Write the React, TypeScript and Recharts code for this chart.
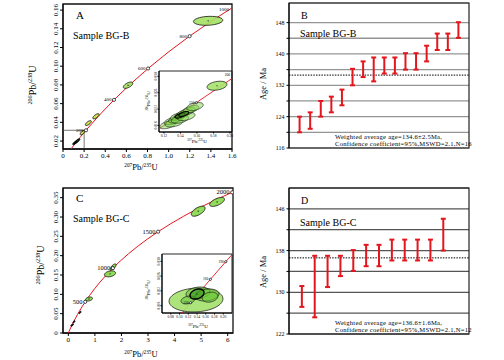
import React from 'react'
import {
  ScatterChart,
  Scatter,
  XAxis,
  YAxis,
  CartesianGrid,
  ReferenceLine,
  ReferenceArea,
  ErrorBar,
} from 'recharts'

const FONT = '"Liberation Serif", "Times New Roman", serif'
const RED = '#e3161d'

// Wetherill concordia, age in Ma -> 207Pb/235U, 206Pb/238U
const concordiaAge = [0, 50, 100, 120, 150, 160, 190, 200, 300, 400, 500, 600, 700, 800, 900, 1000, 1100, 1200, 1300, 1400, 1500, 1600, 1700, 1800, 1900, 2000]
const concordia207 = [0, 0.050475, 0.103498, 0.125449, 0.159197, 0.17067, 0.205774, 0.217708, 0.343738, 0.482813, 0.636293, 0.805665, 0.992523, 1.198625, 1.426405, 1.677433, 1.954515, 2.260302, 2.597739, 2.970093, 3.38099, 3.834413, 4.334764, 4.886899, 5.49618, 6.168531]
const concordia206 = [0, 0.007786, 0.015633, 0.018789, 0.023542, 0.025131, 0.029912, 0.031511, 0.047637, 0.064016, 0.08065, 0.097544, 0.114702, 0.132131, 0.149829, 0.167798, 0.186061, 0.204603, 0.223435, 0.242562, 0.261987, 0.281716, 0.301754, 0.322105, 0.342774, 0.363766]

const markerAgesA = [200, 400, 600, 800]
const markerAgesInsetA = [150]
const markerAgesC = [500, 1000, 1500, 2000]
const markerAgesInsetC = [120, 160, 190]

// error ellipses: [207/235, 206/238, half-width x, half-width y, rho]
const aGreen = [[1.374, 0.1485, 0.139, 0.0048, 0.15], [0.616, 0.0797, 0.045, 0.0034, 0.6]]
const aYellow = [[0.312, 0.0465, 0.03, 0.0027, 0.7], [0.24, 0.0392, 0.028, 0.0026, 0.7], [0.185, 0.029, 0.022, 0.0024, 0.7]]
const aDark = [[0.11, 0.0178, 0.018, 0.0017, 0.7], [0.122, 0.0188, 0.018, 0.0017, 0.7], [0.132, 0.0198, 0.018, 0.0017, 0.7], [0.142, 0.0208, 0.018, 0.0017, 0.7]]

const insetABig = [[0.1843, 0.0277, 0.0121, 0.0011, 0.3]]
const insetACluster = [
  [0.1249, 0.01819, 0.01, 0.001, 0.5],
  [0.1298, 0.01908, 0.0095, 0.0009, 0.5],
  [0.1322, 0.01863, 0.011, 0.001, 0.4],
  [0.1346, 0.01952, 0.009, 0.0009, 0.5],
  [0.137, 0.02019, 0.0095, 0.0009, 0.5],
  [0.1395, 0.01952, 0.0105, 0.001, 0.4],
  [0.1419, 0.02063, 0.009, 0.0009, 0.5],
  [0.1455, 0.02108, 0.0095, 0.0009, 0.5],
  [0.1467, 0.02019, 0.011, 0.001, 0.4],
  [0.1492, 0.02152, 0.009, 0.0009, 0.5],
  [0.1528, 0.02197, 0.0095, 0.0009, 0.5],
  [0.1576, 0.02263, 0.01, 0.001, 0.4],
]
const insetADark = [[0.1395, 0.0204, 0.006, 0.0006, 0.6], [0.144, 0.0208, 0.006, 0.0006, 0.6]]

const cGreen = [[4.89, 0.315, 0.26, 0.013, 0.6], [5.6, 0.339, 0.28, 0.0116, 0.6], [1.57, 0.153, 0.21, 0.0078, 0.3], [1.69, 0.171, 0.11, 0.0078, 0.7], [0.78, 0.088, 0.13, 0.0052, 0.3]]
const cDark = [[0.145, 0.0205, 0.05, 0.003, 0.7], [0.215, 0.029, 0.04, 0.003, 0.7], [0.44, 0.053, 0.04, 0.003, 0.7]]

const insetCBig = [[0.1377, 0.01953, 0.0617, 0.00325, 0.1]]
const insetCMid = [[0.1423, 0.02142, 0.0274, 0.00163, 0.2], [0.1629, 0.02088, 0.0274, 0.00163, 0.2], [0.1194, 0.01953, 0.016, 0.00108, 0.3], [0.1697, 0.0203, 0.018, 0.00136, 0.2]]
const insetCDark = [[0.14, 0.02115, 0.016, 0.00136, 0.3]]

// inset box drawn on panel A
const insetBoxX = [0, 0.2]
const insetBoxY = [0.0115, 0.0315]

// weighted average plots: age ranges (Ma)
const bLow = [120.0, 120.9, 124.0, 125.1, 126.9, 132.0, 134.1, 133.0, 135.0, 135.0, 136.0, 136.0, 138.1, 141.0, 141.0, 144.1]
const bHigh = [124.0, 125.1, 128.0, 129.1, 130.9, 136.2, 138.1, 139.1, 139.1, 139.1, 140.2, 140.2, 142.1, 145.2, 145.2, 148.1]
const bMean = 134.6
const dLow = [127.2, 125.2, 131.0, 133.1, 134.1, 135.0, 135.0, 136.1, 136.1, 136.1, 136.1, 138.0]
const dHigh = [131.2, 137.0, 137.0, 137.0, 138.1, 139.1, 139.1, 140.1, 140.1, 140.1, 140.1, 144.1]
const dMean = 136.6

// ticks
const aXTicks = [0, 0.2, 0.4, 0.6, 0.8, 1.0, 1.2, 1.4, 1.6]
const aYTicks = [0.02, 0.04, 0.06, 0.08, 0.1, 0.12, 0.14, 0.16]
const cXTicks = [0, 1, 2, 3, 4, 5, 6]
const cYTicks = [0, 0.05, 0.1, 0.15, 0.2, 0.25, 0.3, 0.35]
const insetAXTicks = [0.12, 0.14, 0.16, 0.18, 0.2]
const insetAYTicks = [0.018, 0.022, 0.026, 0.03]
const insetCXTicks = [0.08, 0.1, 0.12, 0.14, 0.16, 0.18, 0.2]
const insetCYTicks = [0.018, 0.022, 0.026, 0.03]
const bTicks = [116, 120, 124, 128, 132, 136, 140, 144, 148]
const bLabels = [116, 124, 132, 140, 148]
const dTicks = [122, 126, 130, 134, 138, 142, 146]
const dLabels = [122, 130, 138, 146]

const concordia = concordiaAge.map((age, i) => ({ age, x: concordia207[i], y: concordia206[i] }))
const pickAges = (ages: number[]) => concordia.filter((p) => ages.includes(p.age))
const toEllipses = (rows: number[][]) => rows.map(([x, y, sx, sy, rho]) => ({ x, y, sx, sy, rho }))

const noShape = () => <g />

function ellipseShape(kx: number, ky: number, fill: string, opacity: number, stroke: string, sw: number, dot: boolean) {
  return (p: any) => {
    const { cx, cy, payload } = p
    const c = Math.sqrt(1 - payload.rho * payload.rho)
    let d = ''
    for (let i = 0; i <= 40; i++) {
      const t = (i / 40) * Math.PI * 2
      const px = cx + payload.sx * Math.cos(t) * kx
      const py = cy - payload.sy * (payload.rho * Math.cos(t) + c * Math.sin(t)) * ky
      d += (i ? 'L' : 'M') + px.toFixed(2) + ' ' + py.toFixed(2)
    }
    return (
      <g>
        <path d={d + 'Z'} fill={fill} fillOpacity={opacity} stroke={stroke} strokeWidth={sw} />
        {dot && <circle cx={cx} cy={cy} r={0.6} fill="#000" />}
      </g>
    )
  }
}

function markerShape(r: number, fs: number) {
  return (p: any) => (
    <g>
      <circle cx={p.cx} cy={p.cy} r={r} fill="#fff" stroke="#000" strokeWidth={0.7} />
      <text x={p.cx - r - 1} y={p.cy + fs * 0.3} textAnchor="end" fontSize={fs} fontFamily={FONT} fill="#000">
        {p.payload.age}
      </text>
    </g>
  )
}

const rotYTick = (fs: number, fmt: (v: number) => string) => (p: any) => (
  <text x={p.x} y={p.y} transform={`rotate(-90 ${p.x} ${p.y})`} textAnchor="middle" fontSize={fs} fontFamily={FONT} fill="#000">
    {fmt(p.payload.value)}
  </text>
)

type Group = { rows: number[][]; fill: string; opacity: number; stroke: string; sw: number; dot?: boolean }

function ConcordiaChart(props: any) {
  const { w, h, m, yw, xh, xd, yd, xTicks, yTicks, xFmt, yFmt, fs, ts, markers, mr, mfs, groups, lineW, frameW, children } = props
  const kx = (w - m.left - m.right - yw) / (xd[1] - xd[0])
  const ky = (h - m.top - m.bottom - xh) / (yd[1] - yd[0])
  return (
    <ScatterChart width={w} height={h} margin={m}>
      <XAxis
        type="number"
        dataKey="x"
        domain={xd}
        allowDataOverflow
        ticks={xTicks}
        interval={0}
        tickFormatter={xFmt}
        height={xh}
        tickSize={ts}
        tickMargin={fs * 0.2}
        tick={{ fontSize: fs, fill: '#000', fontFamily: FONT }}
        axisLine={{ stroke: '#000' }}
        tickLine={{ stroke: '#000' }}
      />
      <YAxis
        type="number"
        dataKey="y"
        domain={yd}
        allowDataOverflow
        ticks={yTicks}
        interval={0}
        width={yw}
        tickSize={ts}
        tickMargin={fs * 0.25}
        tick={rotYTick(fs, yFmt)}
        axisLine={{ stroke: '#000' }}
        tickLine={{ stroke: '#000' }}
      />
      <ReferenceArea x1={xd[0]} x2={xd[1]} y1={yd[0]} y2={yd[1]} fill="none" fillOpacity={0} stroke="#111" strokeWidth={frameW} />
      {children}
      <Scatter data={concordia} line={{ stroke: RED, strokeWidth: lineW }} stroke={RED} shape={noShape} isAnimationActive={false} />
      {groups.map((g: Group, i: number) => (
        <Scatter
          key={i}
          data={toEllipses(g.rows)}
          shape={ellipseShape(kx, ky, g.fill, g.opacity, g.stroke, g.sw, g.dot !== false)}
          isAnimationActive={false}
        />
      ))}
      <Scatter data={pickAges(markers)} shape={markerShape(mr, mfs)} isAnimationActive={false} />
    </ScatterChart>
  )
}

function WeightedChart(props: any) {
  const { h, top, bottom, low, high, mean, domain, ticks, labels, n, grid } = props
  const data = low.map((lo: number, i: number) => ({ x: i + 1, y: (lo + high[i]) / 2, err: (high[i] - lo) / 2 }))
  return (
    <ScatterChart width={254} height={h} margin={{ top, right: 35, bottom, left: 0 }}>
      <CartesianGrid vertical={false} stroke={grid} strokeWidth={1.3} />
      <XAxis type="number" dataKey="x" domain={[0, n]} hide />
      <YAxis
        type="number"
        dataKey="y"
        domain={domain}
        allowDataOverflow
        ticks={ticks}
        interval={0}
        width={39}
        tickSize={2.5}
        tickMargin={2}
        tickFormatter={(v: number) => (labels.includes(v) ? String(v) : '')}
        tick={{ fontSize: 6, fill: '#000', fontFamily: FONT }}
        axisLine={{ stroke: '#000' }}
        tickLine={{ stroke: '#000' }}
      />
      <ReferenceArea x1={0} x2={n} y1={domain[0]} y2={domain[1]} fill="none" fillOpacity={0} stroke="#222" strokeWidth={1.2} />
      <ReferenceLine y={mean} stroke="#000" strokeWidth={1} strokeDasharray="1.5 1.2" />
      <Scatter data={data} shape={noShape} isAnimationActive={false}>
        <ErrorBar dataKey="err" direction="y" width={2.5} stroke={RED} strokeWidth={2} isAnimationActive={false} />
      </Scatter>
    </ScatterChart>
  )
}

function IsoTitle({ x, y, size, num, den, rotate }: any) {
  const s = size * 0.62
  const up = size * 0.38
  return (
    <text x={x} y={y} fontSize={size} textAnchor="middle" fontFamily={FONT} fill="#000" transform={rotate ? `rotate(-90 ${x} ${y})` : undefined}>
      <tspan fontSize={s} dy={-up}>{num}</tspan>
      <tspan dy={up}>Pb/</tspan>
      <tspan fontSize={s} dy={-up}>{den}</tspan>
      <tspan dy={up}>U</tspan>
    </text>
  )
}

const fmt1 = (v: number) => (v === 0 ? '0' : v.toFixed(1))
const fmt2 = (v: number) => (v === 0 ? '0' : v.toFixed(2))
const fmt3 = (v: number) => v.toFixed(3)
const fmtInt = (v: number) => String(v)

const pos = (left: number, top: number): React.CSSProperties => ({ position: 'absolute', left, top })

const noteStyle = { fontSize: 6.6, letterSpacing: 0.25 }

export default function App() {
  return (
    <div style={{ position: 'absolute', left: 0, top: 0, width: 504, height: 360, background: '#fff', overflow: 'hidden', fontFamily: FONT }}>
      <div style={pos(0, 0)}>
        <ConcordiaChart
          w={240} h={175} m={{ top: 4, right: 8, bottom: 0, left: 0 }} yw={63} xh={26}
          xd={[0, 1.6]} yd={[0.0115, 0.1665]} xTicks={aXTicks} yTicks={aYTicks} xFmt={fmt1} yFmt={fmt2}
          fs={7} ts={3} markers={markerAgesA} mr={1.6} mfs={5} lineW={1} frameW={1.3}
          groups={[
            { rows: aGreen, fill: '#a3e064', opacity: 0.9, stroke: '#111', sw: 0.8 },
            { rows: aYellow, fill: '#d6e24a', opacity: 0.95, stroke: '#111', sw: 0.9, dot: false },
            { rows: aDark, fill: '#1c2e10', opacity: 1, stroke: '#000', sw: 0.9, dot: false },
          ]}
        >
          <ReferenceLine segment={[{ x: insetBoxX[0], y: insetBoxY[1] }, { x: insetBoxX[1], y: insetBoxY[1] }]} stroke="#777" strokeWidth={1} />
          <ReferenceLine segment={[{ x: insetBoxX[1], y: insetBoxY[0] }, { x: insetBoxX[1], y: insetBoxY[1] }]} stroke="#777" strokeWidth={1} />
        </ConcordiaChart>
      </div>
      <div style={pos(138, 67)}>
        <ConcordiaChart
          w={96} h={78} m={{ top: 4, right: 2, bottom: 0, left: 0 }} yw={21} xh={13}
          xd={[0.114, 0.2025]} yd={[0.0164, 0.0313]} xTicks={insetAXTicks} yTicks={insetAYTicks} xFmt={fmt2} yFmt={fmt3}
          fs={3.6} ts={1.5} markers={markerAgesInsetA} mr={1.1} mfs={3.5} lineW={0.9} frameW={0.9}
          groups={[
            { rows: insetABig, fill: '#a6e36c', opacity: 0.9, stroke: '#111', sw: 0.7 },
            { rows: insetACluster, fill: '#7fd64a', opacity: 0.5, stroke: '#1a1a1a', sw: 0.6, dot: false },
            { rows: insetADark, fill: '#3f8f22', opacity: 0.7, stroke: '#000', sw: 1.1, dot: false },
          ]}
        />
      </div>
      <div style={pos(0, 180)}>
        <ConcordiaChart
          w={240} h={180} m={{ top: 8, right: 7, bottom: 0, left: 0 }} yw={63} xh={27}
          xd={[-0.2, 6.2]} yd={[0, 0.375]} xTicks={cXTicks} yTicks={cYTicks} xFmt={fmtInt} yFmt={fmt2}
          fs={7} ts={3} markers={markerAgesC} mr={1.6} mfs={6.5} lineW={1} frameW={1.3}
          groups={[
            { rows: cGreen, fill: '#86d84a', opacity: 0.9, stroke: '#111', sw: 0.8 },
            { rows: cDark, fill: '#111', opacity: 1, stroke: '#000', sw: 0.8, dot: false },
          ]}
        />
      </div>
      <div style={pos(140, 250)}>
        <ConcordiaChart
          w={94} h={80} m={{ top: 4, right: 2, bottom: 0, left: 0 }} yw={22} xh={17}
          xd={[0.06, 0.22]} yd={[0.016, 0.032]} xTicks={insetCXTicks} yTicks={insetCYTicks} xFmt={fmt2} yFmt={fmt3}
          fs={3.6} ts={1.5} markers={markerAgesInsetC} mr={1.1} mfs={3.5} lineW={0.9} frameW={0.9}
          groups={[
            { rows: insetCBig, fill: '#a3e06c', opacity: 0.9, stroke: '#111', sw: 0.7, dot: false },
            { rows: insetCMid, fill: '#6cc83a', opacity: 0.6, stroke: '#1a1a1a', sw: 0.7, dot: false },
            { rows: insetCDark, fill: '#3f9a25', opacity: 0.7, stroke: '#000', sw: 1.4 },
          ]}
        />
      </div>
      <div style={pos(250, 0)}>
        <WeightedChart h={175} top={3} bottom={27} low={bLow} high={bHigh} mean={bMean} domain={[116, 153]} ticks={bTicks} labels={bLabels} n={17} grid="#959595" />
      </div>
      <div style={pos(250, 180)}>
        <WeightedChart h={180} top={8} bottom={26} low={dLow} high={dHigh} mean={dMean} domain={[122, 150]} ticks={dTicks} labels={dLabels} n={14} grid="#555" />
      </div>
      <svg width={504} height={360} style={{ position: 'absolute', left: 0, top: 0, pointerEvents: 'none' }} fontFamily={FONT}>
        <text x={76} y={19} fontSize={11}>A</text>
        <text x={73} y={38.5} fontSize={10}>Sample BG-B</text>
        <text x={229} y={11} fontSize={5} textAnchor="end">1000</text>
        <text x={230} y={75.5} fontSize={3.5} textAnchor="end">200</text>
        <IsoTitle x={36} y={85} size={10} num="206" den="238" rotate />
        <IsoTitle x={141} y={170} size={8.5} num="207" den="235" />
        <IsoTitle x={150} y={101} size={5} num="206" den="238" rotate />
        <IsoTitle x={197} y={143} size={5} num="207" den="235" />

        <text x={301} y={19} fontSize={10}>B</text>
        <text x={300} y={37} fontSize={10}>Sample BG-B</text>
        <text x={266} y={84} fontSize={8.5} textAnchor="middle" transform="rotate(-90 266 84)">Age / Ma</text>
        <text x={335} y={138.8} style={noteStyle}>Weighted average age=134.6±2.5Ma,</text>
        <text x={335} y={146.4} style={noteStyle}>Confidence coefficient=95%,MSWD=2.1,N=16</text>

        <text x={76} y={202} fontSize={11}>C</text>
        <text x={73} y={221.5} fontSize={10}>Sample BG-C</text>
        <IsoTitle x={44} y={265} size={10} num="206" den="238" rotate />
        <IsoTitle x={141} y={357} size={8.5} num="207" den="235" />
        <IsoTitle x={150} y={290} size={5} num="206" den="238" rotate />
        <IsoTitle x={198} y={328} size={5} num="207" den="235" />

        <text x={301} y={204} fontSize={10}>D</text>
        <text x={300} y={226} fontSize={10}>Sample BG-C</text>
        <text x={266} y={272} fontSize={8.5} textAnchor="middle" transform="rotate(-90 266 272)">Age / Ma</text>
        <text x={335} y={324.6} style={noteStyle}>Weighted average age=136.6±1.6Ma,</text>
        <text x={335} y={332.2} style={noteStyle}>Confidence coefficient=95%,MSWD=2.1,N=12</text>
      </svg>
    </div>
  )
}
